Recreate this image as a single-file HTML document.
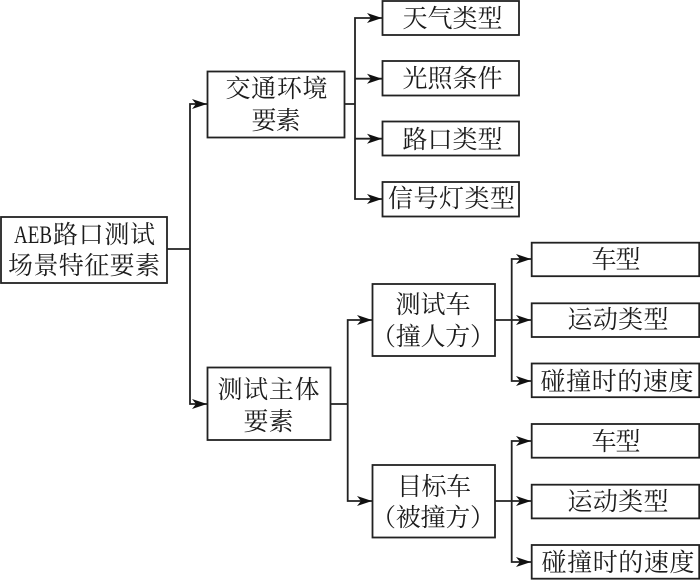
<!DOCTYPE html>
<html><head><meta charset="utf-8"><style>
html,body{margin:0;padding:0;background:#fff}
svg{display:block}
text{font-family:"Liberation Serif","Noto Serif CJK SC",serif;font-size:25px;fill:#1c1c1c}
.b{fill:#fff;stroke:#222;stroke-width:1.8}
.l{fill:none;stroke:#222;stroke-width:1.8}
</style></head><body>
<svg width="700" height="580" viewBox="0 0 700 580" xmlns="http://www.w3.org/2000/svg">
<defs><polygon id="a" points="0,0 -15,-5 -11,0 -15,5" fill="#111"/></defs>
<g class="l">
<path class="l" d="M167 249H190M207 104H190V404H207"/>
<path class="l" d="M344.500 104H355M382 18H355V199H382M355 78.700H382M355 138.700H382"/>
<path class="l" d="M330.500 404H347.700M372 320H347.700V501H372"/>
<path class="l" d="M495 320H531M531 259H511.700V381H531"/>
<path class="l" d="M495 501H531M531 441H511.700V562H531"/>
</g>
<use href="#a" x="207" y="104"/><use href="#a" x="207" y="404"/>
<use href="#a" x="382" y="18"/><use href="#a" x="382" y="78.700"/><use href="#a" x="382" y="138.700"/><use href="#a" x="382" y="199"/>
<use href="#a" x="372" y="320"/><use href="#a" x="372" y="501"/>
<use href="#a" x="531" y="259"/><use href="#a" x="531" y="320"/><use href="#a" x="531" y="381"/>
<use href="#a" x="531" y="441"/><use href="#a" x="531" y="501"/><use href="#a" x="531" y="562"/>
<rect class="b" x="1" y="217" width="166" height="66"/>
<rect class="b" x="207.500" y="71.500" width="137" height="66"/>
<rect class="b" x="207.500" y="367.500" width="123" height="72.500"/>
<rect class="b" x="382.500" y="1" width="136.500" height="34"/>
<rect class="b" x="382.500" y="61" width="136.500" height="34.500"/>
<rect class="b" x="382.500" y="121.500" width="136.500" height="34"/>
<rect class="b" x="382.500" y="182" width="136.500" height="34.500"/>
<rect class="b" x="372.500" y="284" width="122.500" height="72"/>
<rect class="b" x="372.500" y="465" width="122.500" height="72.500"/>
<rect class="b" x="531.700" y="242.700" width="167.500" height="33.500"/>
<rect class="b" x="531.700" y="303.300" width="167.500" height="33.700"/>
<rect class="b" x="531.700" y="363.500" width="167.500" height="33.700"/>
<rect class="b" x="531.700" y="424" width="167.500" height="33.700"/>
<rect class="b" x="531.700" y="484.700" width="167.500" height="33.700"/>
<rect class="b" x="531.700" y="545" width="167.500" height="33.700"/>
<text x="14" y="243" textLength="38" lengthAdjust="spacingAndGlyphs">AEB</text>
<text x="53" y="243" textLength="102" lengthAdjust="spacing">路口测试</text>
<text x="8" y="274" textLength="152" lengthAdjust="spacing">场景特征要素</text>
<text x="225.500" y="97" textLength="102" lengthAdjust="spacing">交通环境</text>
<text x="251.500" y="129" textLength="49" lengthAdjust="spacing">要素</text>
<text x="217.500" y="398" textLength="102" lengthAdjust="spacing">测试主体</text>
<text x="243.500" y="430" textLength="50" lengthAdjust="spacing">要素</text>
<text x="402.500" y="27" textLength="100" lengthAdjust="spacing">天气类型</text>
<text x="402.500" y="87" textLength="100" lengthAdjust="spacing">光照条件</text>
<text x="402.500" y="148" textLength="100" lengthAdjust="spacing">路口类型</text>
<text x="388" y="207" textLength="127" lengthAdjust="spacing">信号灯类型</text>
<text x="395.500" y="313" textLength="75" lengthAdjust="spacing">测试车</text>
<text x="371" y="345" textLength="124" lengthAdjust="spacing">（撞人方）</text>
<text x="397" y="495" textLength="74" lengthAdjust="spacing">目标车</text>
<text x="371" y="526" textLength="124" lengthAdjust="spacing">（被撞方）</text>
<text x="591.500" y="268" textLength="49" lengthAdjust="spacing">车型</text>
<text x="567.500" y="328" textLength="101" lengthAdjust="spacing">运动类型</text>
<text x="540.500" y="390" textLength="153" lengthAdjust="spacing">碰撞时的速度</text>
<text x="591.500" y="450" textLength="49" lengthAdjust="spacing">车型</text>
<text x="567.500" y="510" textLength="101" lengthAdjust="spacing">运动类型</text>
<text x="541.500" y="571" textLength="153" lengthAdjust="spacing">碰撞时的速度</text>
</svg>
</body></html>
